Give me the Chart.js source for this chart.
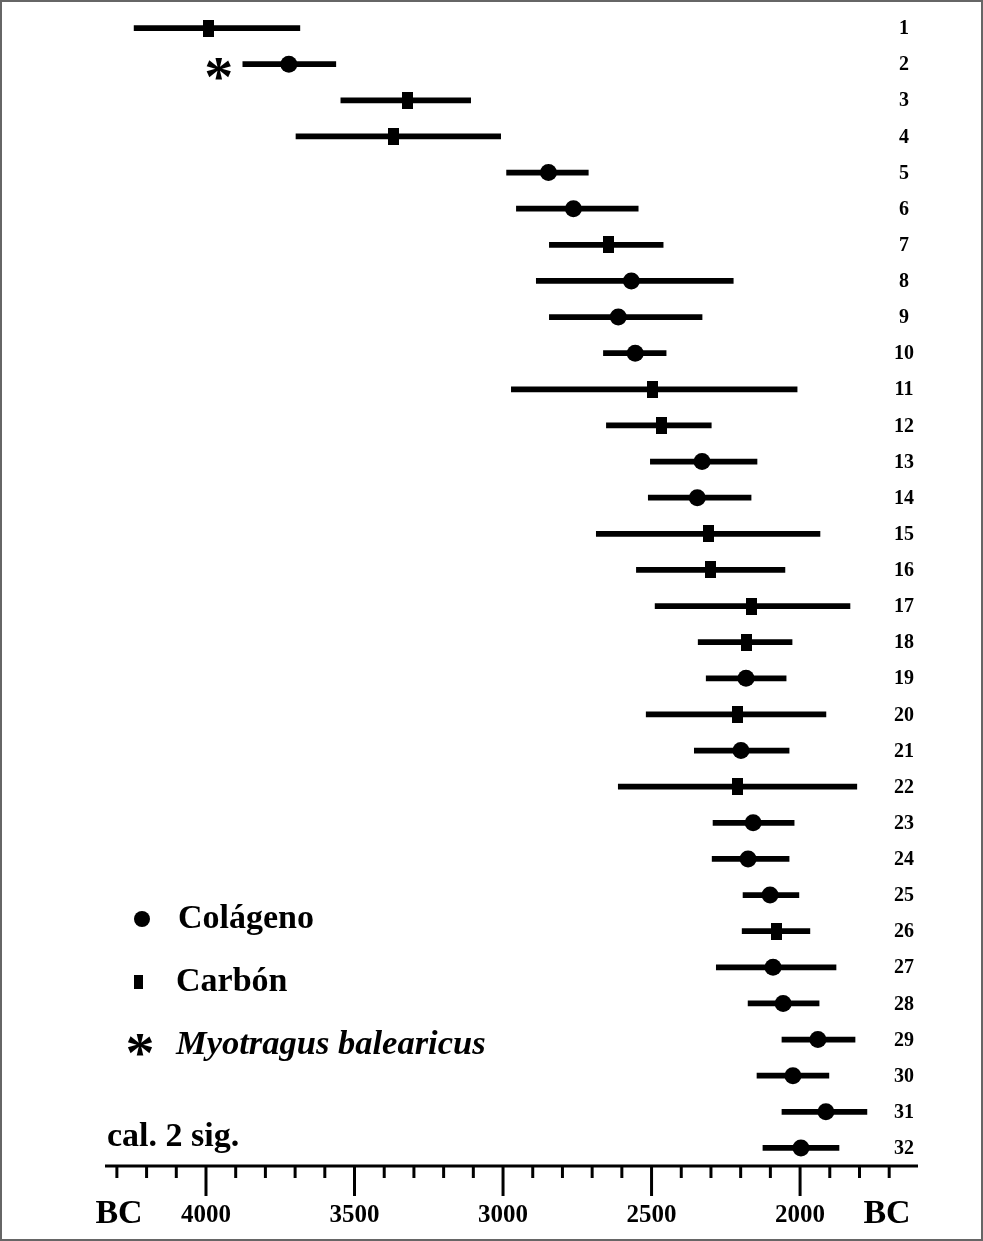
<!DOCTYPE html>
<html>
<head>
<meta charset="utf-8">
<script src="https://cdn.jsdelivr.net/npm/chart.js@4.4.1/dist/chart.umd.min.js"></script>
<style>
  body { margin: 0; background: #fff; }
  #wrap { position: relative; width: 983px; height: 1241px; }
</style>
</head>
<body>
<div id="wrap"><canvas id="chart" width="983" height="1241"></canvas></div>
<script>
// row numbers, top to bottom
const rows = ['1','2','3','4','5','6','7','8','9','10','11','12','13','14','15','16',
              '17','18','19','20','21','22','23','24','25','26','27','28','29','30','31','32'];

// calibrated ranges, 2 sigma (years BC)
const rangeOld = [4242, 3876, 3546, 3697, 2988, 2955, 2844, 2888, 2844, 2662, 2972, 2652, 2504, 2511, 2686, 2551,
                  2488, 2343, 2316, 2518, 2356, 2612, 2293, 2296, 2192, 2195, 2282, 2175, 2061, 2145, 2061, 2125];
const rangeYoung = [3684, 3563, 3109, 3008, 2713, 2545, 2461, 2225, 2330, 2451, 2010, 2299, 2145, 2165, 1933, 2051,
                    1832, 2027, 2047, 1913, 2037, 1809, 2020, 2037, 2004, 1967, 1879, 1936, 1815, 1903, 1775, 1869];
const midDate = [3990, 3721, 3321, 3368, 2847, 2763, 2646, 2568, 2612, 2555, 2498, 2467, 2330, 2346, 2309, 2303,
                 2165, 2182, 2182, 2212, 2199, 2212, 2158, 2175, 2101, 2078, 2091, 2057, 1940, 2024, 1913, 1997];
// 'col' = colágeno, 'car' = carbón
const sample = ['car','col','car','car','col','col','car','col','col','col','car','car','col','col','car','car',
                'car','car','col','car','col','car','col','col','col','car','col','col','col','col','col','col'];
// rows dated on Myotragus balearicus
const myotragus = ['2'];

const majorTicks = [4000, 3500, 3000, 2500, 2000];

const serif = '"Liberation Serif", "Times New Roman", serif';

// little upright bar used as marker for carbón
function rectMarker(w, h) {
    const c = document.createElement('canvas');
    c.width = w; c.height = h;
    const g = c.getContext('2d');
    g.fillStyle = '#000';
    g.fillRect(0, 0, w, h);
    return c;
}
const carbonMark = rectMarker(11, 17);

function drawAsterisk(ctx, x, y, size) {
    ctx.save();
    ctx.font = 'bold ' + size + 'px ' + serif;
    ctx.textAlign = 'center';
    ctx.textBaseline = 'alphabetic';
    const m = ctx.measureText('*');
    const off = (m.actualBoundingBoxAscent - m.actualBoundingBoxDescent) / 2;
    ctx.fillText('*', x, y + off);
    ctx.restore();
}

const decorations = {
    id: 'decorations',
    afterDraw(chart) {
        const ctx = chart.ctx;
        const xs = chart.scales.x;
        const ys = chart.scales.y;
        const area = chart.chartArea;
        ctx.save();
        ctx.fillStyle = '#000';
        ctx.strokeStyle = '#000';

        // bottom axis
        ctx.lineWidth = 3;
        ctx.beginPath();
        ctx.moveTo(area.left, area.bottom);
        ctx.lineTo(area.right, area.bottom);
        ctx.stroke();
        for (let v = 1700; v <= 4300; v += 100) {
            const px = xs.getPixelForValue(v);
            const len = majorTicks.includes(v) ? 30 : 12;
            ctx.beginPath();
            ctx.moveTo(px, area.bottom);
            ctx.lineTo(px, area.bottom + len);
            ctx.stroke();
        }
        ctx.textAlign = 'center';
        ctx.textBaseline = 'middle';
        ctx.font = 'bold 25px ' + serif;
        majorTicks.forEach(v => ctx.fillText(String(v), xs.getPixelForValue(v), 1216));
        ctx.font = 'bold 34px ' + serif;
        ctx.fillText('BC', 119, 1214);
        ctx.fillText('BC', 887, 1214);

        // row numbers
        ctx.font = 'bold 20px ' + serif;
        rows.forEach(r => ctx.fillText(r, 904, ys.getPixelForValue(r) + 1));

        // Myotragus mark beside its bar
        myotragus.forEach(r => {
            const i = rows.indexOf(r);
            drawAsterisk(ctx, xs.getPixelForValue(rangeOld[i]) - 24, ys.getPixelForValue(r) + 5, 58);
        });

        // legend
        ctx.textAlign = 'left';
        ctx.font = 'bold 34px ' + serif;
        ctx.beginPath();
        ctx.arc(142, 919, 8, 0, Math.PI * 2);
        ctx.fill();
        ctx.fillText('Colágeno', 178, 919);
        ctx.fillRect(134, 975, 9, 14);
        ctx.fillText('Carbón', 176, 982);
        drawAsterisk(ctx, 140, 1045, 58);
        ctx.font = 'italic bold 34.5px ' + serif;
        ctx.fillText('Myotragus balearicus', 176, 1045);
        ctx.font = 'bold 34px ' + serif;
        ctx.fillText('cal. 2 sig.', 107, 1137);

        // frame
        ctx.strokeStyle = '#666';
        ctx.lineWidth = 2;
        ctx.strokeRect(1, 1, chart.width - 2, chart.height - 2);
        ctx.restore();
    }
};

const colPoints = [];
const carPoints = [];
rows.forEach((r, i) => {
    const p = { x: midDate[i], y: r };
    if (sample[i] === 'col') colPoints.push(p); else carPoints.push(p);
});

new Chart(document.getElementById('chart'), {
    type: 'bar',
    data: {
        labels: rows,
        datasets: [
            {
                label: 'cal. 2 sig.',
                data: rows.map((r, i) => [rangeYoung[i], rangeOld[i]]),
                backgroundColor: '#000',
                borderWidth: 0,
                barThickness: 5,
                order: 2
            },
            {
                type: 'line',
                label: 'Colágeno',
                data: colPoints,
                showLine: false,
                pointStyle: 'circle',
                pointRadius: 8.5,
                pointBackgroundColor: '#000',
                pointBorderWidth: 0,
                order: 1
            },
            {
                type: 'line',
                label: 'Carbón',
                data: carPoints,
                showLine: false,
                pointStyle: carbonMark,
                pointRadius: 8,
                order: 1
            }
        ]
    },
    options: {
        indexAxis: 'y',
        responsive: false,
        animation: false,
        layout: { padding: { left: 105, right: 65, top: 10, bottom: 75 } },
        scales: {
            x: { type: 'linear', reverse: true, min: 1603, max: 4340, display: false },
            y: { type: 'category', labels: rows, offset: true, display: false }
        },
        plugins: {
            legend: { display: false },
            tooltip: { enabled: false }
        }
    },
    plugins: [decorations]
});
</script>
</body>
</html>
